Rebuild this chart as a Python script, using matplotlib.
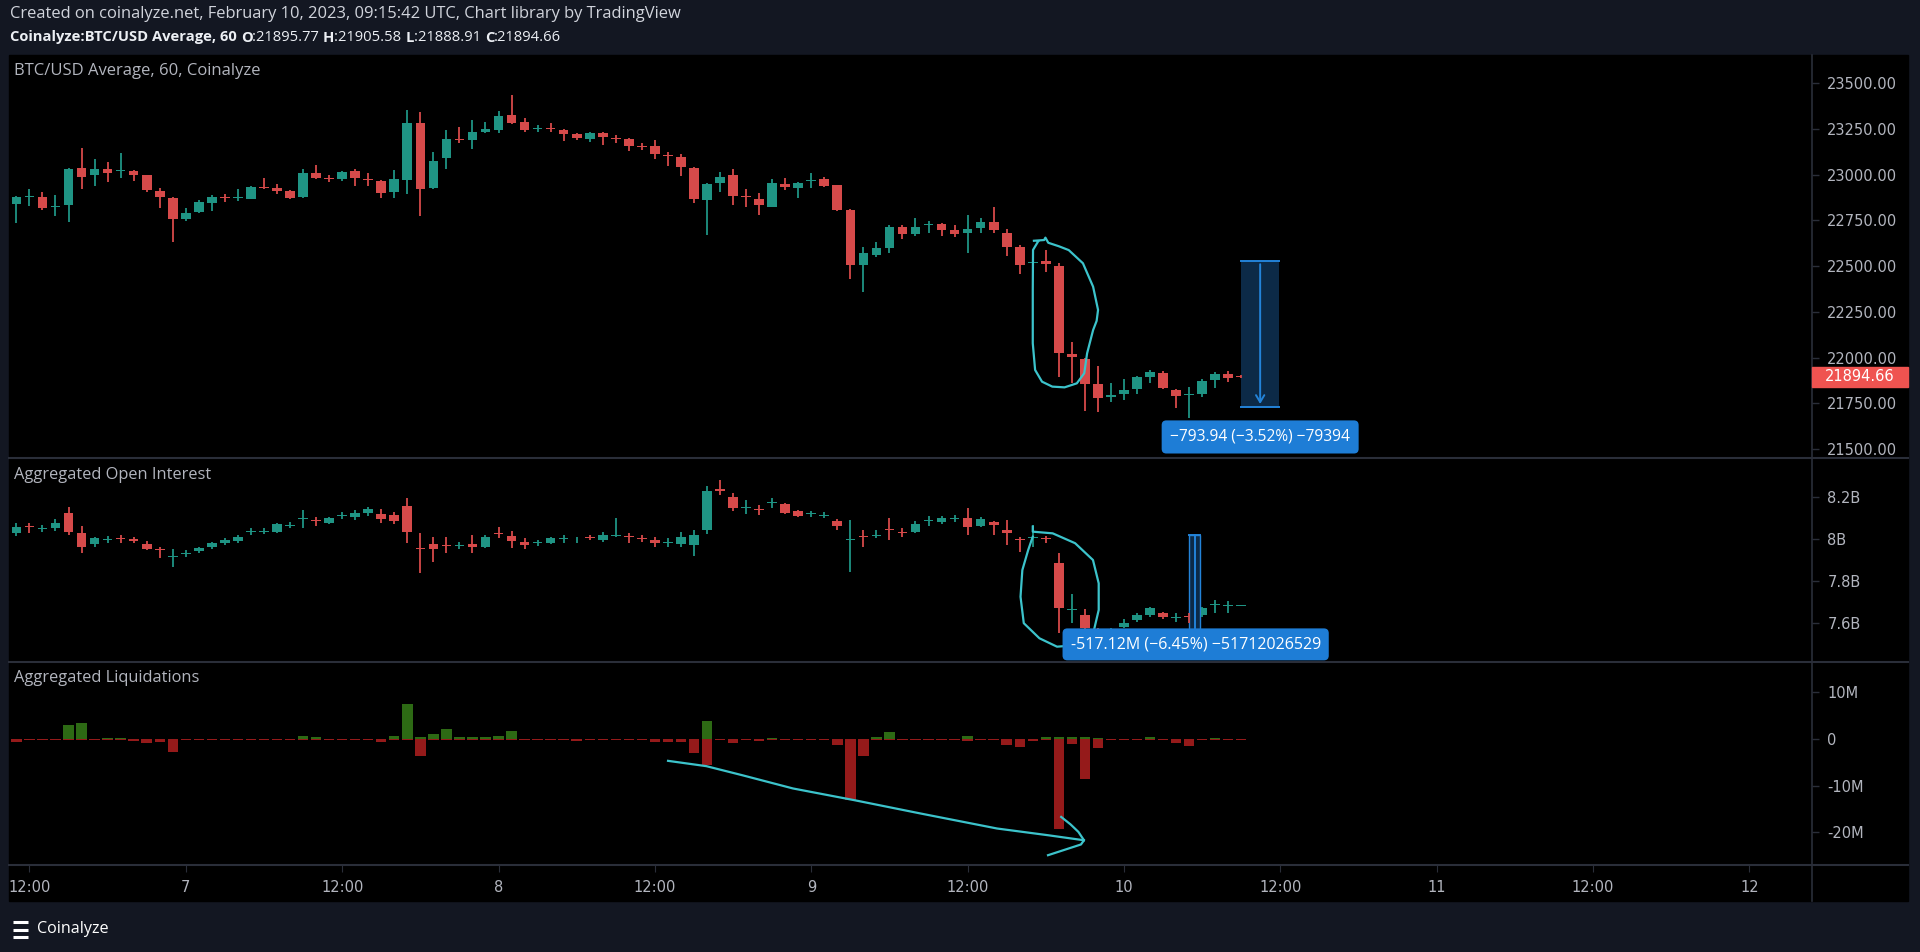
import numpy as np
import matplotlib.pyplot as plt
from matplotlib.patches import Rectangle

# hourly bars, hour 0 = Feb 6 12:00 UTC, last bar = Feb 10 09:00
hours = np.arange(-1, 94)

price_open = [22839, 22875, 22879, 22824, 22833, 23034, 22997, 23030, 23019, 23017, 22995, 22910,
              22870, 22755, 22795, 22846, 22877, 22870, 22868, 22933, 22926, 22908, 22875, 23006,
              22982, 22977, 23017, 22977, 22966, 22906, 22970, 23283, 22926, 23088, 23196, 23188,
              23234, 23243, 23325, 23285, 23247, 23256, 23243, 23219, 23196, 23225, 23199, 23192,
              23155, 23156, 23108, 23097, 23035, 22861, 22952, 22995, 22882, 22868, 22824, 22950,
              22924, 22966, 22977, 22941, 22806, 22505, 22560, 22596, 22715, 22675, 22725, 22730,
              22697, 22682, 22706, 22742, 22682, 22602, 22515, 22529, 22502, 22019, 21990, 21855,
              21786, 21799, 21826, 21895, 21917, 21822, 21793, 21801, 21877, 21910, 21895.77]
price_high = [22883, 22923, 22906, 22888, 23035, 23143, 23085, 23070, 23116, 23025, 22998, 22924,
              22879, 22815, 22861, 22886, 22893, 22919, 22939, 22979, 22946, 22915, 23030, 23052,
              22997, 23021, 23030, 23006, 22970, 23025, 23352, 23340, 23125, 23243, 23261, 23298,
              23289, 23349, 23434, 23307, 23270, 23280, 23249, 23225, 23232, 23230, 23216, 23198,
              23170, 23188, 23125, 23112, 23039, 22954, 23015, 23030, 22919, 22901, 22973, 22979,
              22961, 23006, 22988, 22944, 22810, 22606, 22633, 22724, 22724, 22760, 22746, 22733,
              22724, 22779, 22760, 22821, 22700, 22615, 22587, 22587, 22515, 22087, 21996, 21955,
              21859, 21881, 21899, 21932, 21926, 21826, 21841, 21881, 21923, 21926, 21905.58]
price_low = [22737, 22828, 22806, 22773, 22742, 22921, 22939, 22959, 22979, 22966, 22906, 22815,
             22633, 22748, 22791, 22802, 22852, 22857, 22864, 22919, 22893, 22864, 22870, 22974,
             22961, 22963, 22935, 22937, 22870, 22873, 22893, 22773, 22919, 23030, 23170, 23137,
             23229, 23229, 23276, 23234, 23232, 23234, 23185, 23188, 23179, 23161, 23174, 23130,
             23134, 23083, 23046, 22992, 22846, 22669, 22906, 22833, 22821, 22779, 22821, 22915,
             22870, 22928, 22930, 22802, 22427, 22356, 22551, 22573, 22646, 22666, 22678, 22666,
             22660, 22569, 22682, 22678, 22556, 22454, 22496, 22469, 21892, 21859, 21709, 21704,
             21755, 21768, 21801, 21859, 21826, 21722, 21668, 21786, 21835, 21864, 21888.91]
price_close = [22879, 22882, 22815, 22828, 23030, 22988, 23030, 23010, 23026, 22999, 22915, 22879,
               22755, 22788, 22852, 22875, 22872, 22875, 22932, 22924, 22912, 22870, 23006, 22979,
               22976, 23014, 22979, 22970, 22901, 22975, 23283, 22919, 23076, 23194, 23188, 23230,
               23247, 23320, 23283, 23243, 23254, 23249, 23219, 23198, 23229, 23203, 23194, 23156,
               23150, 23112, 23101, 23039, 22864, 22950, 22984, 22882, 22875, 22833, 22955, 22930,
               22955, 22972, 22939, 22806, 22505, 22569, 22598, 22715, 22675, 22715, 22731, 22697,
               22673, 22702, 22742, 22697, 22606, 22505, 22522, 22511, 22023, 22005, 21855, 21780,
               21795, 21822, 21892, 21923, 21832, 21790, 21801, 21873, 21910, 21886, 21894.66]

# aggregated open interest, billions USD
oi_open = [8.027, 8.062, 8.048, 8.054, 8.122, 8.027, 7.976, 7.995, 8.003, 7.998, 7.976, 7.952,
           7.913, 7.930, 7.943, 7.960, 7.979, 7.992, 8.033, 8.035, 8.035, 8.064, 8.095, 8.090,
           8.078, 8.111, 8.106, 8.122, 8.119, 8.114, 8.157, 7.957, 7.975, 7.973, 7.968, 7.976,
           7.960, 8.030, 8.016, 7.987, 7.983, 7.979, 8.000, 7.998, 8.008, 7.995, 8.016, 8.016,
           8.006, 7.995, 7.981, 7.975, 7.971, 8.043, 8.237, 8.202, 8.146, 8.143, 8.170, 8.165,
           8.133, 8.119, 8.111, 8.087, 7.995, 8.014, 8.016, 8.049, 8.035, 8.035, 8.084, 8.083,
           8.096, 8.102, 8.062, 8.083, 8.043, 8.000, 8.006, 8.006, 7.884, 7.662, 7.638, 7.554,
           7.556, 7.582, 7.614, 7.638, 7.649, 7.625, 7.632, 7.638, 7.684, 7.683, 7.682]
oi_high = [8.075, 8.078, 8.067, 8.094, 8.154, 8.064, 8.008, 8.014, 8.017, 8.008, 7.992, 7.964,
           7.951, 7.948, 7.964, 7.987, 8.003, 8.019, 8.051, 8.051, 8.078, 8.083, 8.138, 8.106,
           8.106, 8.130, 8.138, 8.154, 8.141, 8.130, 8.194, 8.030, 8.008, 8.008, 7.987, 8.019,
           8.019, 8.056, 8.038, 8.003, 7.995, 8.008, 8.019, 8.011, 8.019, 8.032, 8.098, 8.030,
           8.019, 8.008, 8.003, 8.035, 8.043, 8.252, 8.281, 8.221, 8.186, 8.162, 8.194, 8.170,
           8.138, 8.135, 8.127, 8.094, 8.090, 8.043, 8.043, 8.098, 8.051, 8.087, 8.110, 8.111,
           8.114, 8.146, 8.106, 8.087, 8.090, 8.008, 8.067, 8.014, 7.935, 7.738, 7.665, 7.575,
           7.575, 7.617, 7.646, 7.678, 7.654, 7.646, 7.646, 7.678, 7.710, 7.706, 7.686]
oi_low = [8.016, 8.030, 8.035, 8.038, 8.019, 7.935, 7.960, 7.979, 7.979, 7.983, 7.948, 7.908,
          7.865, 7.913, 7.932, 7.951, 7.971, 7.983, 8.019, 8.024, 8.030, 8.051, 8.051, 8.062,
          8.071, 8.094, 8.090, 8.111, 8.078, 8.071, 7.983, 7.836, 7.892, 7.932, 7.951, 7.935,
          7.957, 8.003, 7.956, 7.952, 7.967, 7.975, 7.983, 7.983, 7.995, 7.987, 8.008, 7.983,
          7.987, 7.960, 7.960, 7.960, 7.919, 8.024, 8.210, 8.135, 8.119, 8.114, 8.146, 8.119,
          8.106, 8.103, 8.098, 8.043, 7.844, 7.964, 8.003, 7.995, 8.008, 8.027, 8.062, 8.071,
          8.083, 8.019, 8.056, 8.019, 7.971, 7.940, 7.964, 7.979, 7.554, 7.598, 7.559, 7.535,
          7.545, 7.575, 7.606, 7.630, 7.617, 7.606, 7.598, 7.630, 7.646, 7.646, 7.680]
oi_close = [8.059, 8.056, 8.051, 8.078, 8.035, 7.964, 8.003, 8.000, 7.998, 7.992, 7.951, 7.946,
            7.917, 7.935, 7.956, 7.979, 7.995, 8.011, 8.038, 8.040, 8.071, 8.069, 8.100, 8.084,
            8.098, 8.116, 8.122, 8.143, 8.095, 8.087, 8.035, 7.951, 7.951, 7.968, 7.973, 7.960,
            8.011, 8.024, 7.990, 7.971, 7.987, 8.003, 8.005, 8.002, 8.003, 8.019, 8.021, 8.011,
            8.000, 7.983, 7.986, 8.011, 8.019, 8.230, 8.230, 8.146, 8.151, 8.138, 8.176, 8.125,
            8.111, 8.125, 8.116, 8.062, 8.000, 8.008, 8.021, 8.043, 8.030, 8.071, 8.090, 8.102,
            8.100, 8.056, 8.094, 8.067, 8.027, 7.995, 8.011, 8.000, 7.670, 7.668, 7.575, 7.548,
            7.562, 7.602, 7.638, 7.670, 7.627, 7.629, 7.627, 7.670, 7.688, 7.687, 7.684]

# aggregated liquidations, millions USD (longs negative, shorts positive)
liq_longs = [-0.6, -0.2, -0.2, -0.2, -0.2, -0.3, -0.2, -0.2, -0.2, -0.4, -0.9, -0.6,
             -2.7, -0.2, -0.2, -0.2, -0.2, -0.2, -0.2, -0.2, -0.2, -0.2, -0.2, -0.2,
             -0.2, -0.2, -0.2, -0.2, -0.6, -0.2, -0.2, -3.6, -0.2, -0.2, -0.2, -0.2,
             -0.2, -0.2, -0.2, -0.2, -0.2, -0.2, -0.2, -0.4, -0.2, -0.2, -0.2, -0.2,
             -0.2, -0.6, -0.6, -0.6, -2.9, -5.6, -0.2, -0.9, -0.2, -0.4, -0.2, -0.2,
             -0.2, -0.2, -0.2, -1.3, -13.1, -3.7, -0.2, -0.2, -0.2, -0.2, -0.2, -0.2,
             -0.2, -0.5, -0.2, -0.2, -1.3, -1.8, -0.4, -0.2, -19.2, -1.1, -8.6, -2.0,
             -0.2, -0.2, -0.2, -0.2, -0.2, -0.9, -1.5, -0.2, -0.2, -0.2, -0.2]
liq_shorts = [0.1, 0.1, 0.1, 0.1, 3.0, 3.4, 0.1, 0.2, 0.2, 0.1, 0.1, 0.1,
              0.1, 0.1, 0.1, 0.1, 0.1, 0.1, 0.1, 0.1, 0.1, 0.1, 0.6, 0.5,
              0.1, 0.1, 0.1, 0.1, 0.1, 0.6, 7.6, 0.5, 1.1, 2.1, 0.4, 0.4,
              0.4, 0.7, 1.7, 0.1, 0.1, 0.1, 0.1, 0.1, 0.1, 0.1, 0.1, 0.1,
              0.1, 0.1, 0.1, 0.1, 0.1, 3.9, 0.1, 0.1, 0.1, 0.1, 0.2, 0.1,
              0.1, 0.1, 0.1, 0.1, 0.1, 0.1, 0.5, 1.6, 0.1, 0.1, 0.1, 0.1,
              0.1, 0.6, 0.1, 0.1, 0.1, 0.1, 0.1, 0.4, 0.5, 0.4, 0.4, 0.2,
              0.1, 0.1, 0.1, 0.4, 0.1, 0.1, 0.1, 0.1, 0.3, 0.1, 0.1]

price_ticks = [21500, 21750, 22000, 22250, 22500, 22750, 23000, 23250, 23500]
oi_ticks = [7.6, 7.8, 8.0, 8.2]
oi_tick_labels = ["7.6B", "7.8B", "8B", "8.2B"]
liq_ticks = [-20, -10, 0, 10]
liq_tick_labels = ["-20M", "-10M", "0", "10M"]
time_ticks = [0, 12, 24, 36, 48, 60, 72, 84, 96, 108, 120, 132]
time_tick_labels = ["12:00", "7", "12:00", "8", "12:00", "9", "12:00", "10", "12:00", "11", "12:00", "12"]

# measure tools drawn on the chart
measure_price_top, measure_price_delta = 22525.0, 793.94
measure_oi_top, measure_oi_delta = 8.019, 0.51712
price_measure_label = "\u2212793.94 (\u22123.52%) \u221279394"
oi_measure_label = "-517.12M (\u22126.45%) \u221251712026529"

# hand-drawn cyan marks (hour, value)
scribble_price_h = [77.09, 77.87, 77.97, 78.19, 79.0, 79.76, 80.85, 81.63, 82.01, 81.9, 81.63,
                    81.17, 80.95, 80.38, 79.44, 78.50, 77.71, 77.18, 77.0, 77.0, 77.02, 77.4]
scribble_price_v = [22638, 22642, 22655, 22627, 22608, 22587, 22515, 22387, 22260, 22200, 22150,
                    22023, 21914, 21859, 21837, 21841, 21868, 21932, 22078, 22369, 22588, 22633]
scribble_oi_h = [77.0, 77.0, 78.53, 80.25, 81.62, 82.06, 82.06, 81.70, 80.59, 78.86, 77.51,
                 76.31, 76.06, 76.20, 76.65, 77.0]
scribble_oi_v = [8.059, 8.035, 8.027, 7.980, 7.900, 7.789, 7.662, 7.567, 7.495, 7.487, 7.527,
                 7.599, 7.725, 7.852, 7.948, 8.011]
scribble_liq_h = [49.01, 51.95, 54.69, 58.60, 63.31, 68.40, 74.26, 78.17, 80.93]
scribble_liq_v = [-4.68, -5.82, -7.75, -10.60, -13.11, -15.97, -19.18, -20.62, -21.70]
scribble_arrow_h = [79.18, 79.9, 80.5, 80.93, 80.7, 78.17]
scribble_arrow_v = [-16.7, -18.3, -19.9, -21.7, -22.6, -24.9]

# ---- styling ----
W, H = 1920, 952
NAVY = '#131722'
SEP = '#2a2e39'
TXT = '#b2b5be'
UP, DOWN = '#1f9484', '#d64a4a'
LIQ_UP, LIQ_DOWN = '#2d6a14', '#951a1a'
CYAN = '#3cc3cb'
BLUE = '#2383d8'
X0, X1 = 10, 1812
XLIM = (-1.49, 136.8)

plt.rcParams['font.family'] = ['Open Sans', 'DejaVu Sans']

fig = plt.figure(figsize=(W / 100, H / 100), dpi=100, facecolor=NAVY)

bg = fig.add_axes([0, 0, 1, 1], zorder=0)
bg.set_xlim(0, W)
bg.set_ylim(H, 0)
bg.axis('off')
bg.add_patch(Rectangle((9, 55), 1899, 846, color='black'))
for y in (458, 662, 865):
    bg.plot([9, 1908], [y, y], color=SEP, lw=1.5)
bg.plot([X1, X1], [55, 901], color=SEP, lw=1.2)


def pane(y0, y1):
    ax = fig.add_axes([X0 / W, 1 - y1 / H, (X1 - X0) / W, (y1 - y0) / H], zorder=2)
    ax.set_facecolor('none')
    for s in ax.spines.values():
        s.set_visible(False)
    ax.set_xlim(*XLIM)
    ax.yaxis.tick_right()
    ax.tick_params(axis='y', colors=SEP, labelcolor=TXT, length=5, width=1, pad=6,
                   labelsize=10.5, labelfontfamily='DejaVu Sans')
    ax.tick_params(axis='x', bottom=False, labelbottom=False)
    return ax


def candles(ax, o, h, l, c, min_body):
    o, h, l, c = map(np.asarray, (o, h, l, c))
    colors = np.where(c >= o, UP, DOWN)
    ax.vlines(hours, l, h, colors=colors, linewidth=1.3)
    ax.bar(hours, np.maximum(np.abs(c - o), min_body), 0.74, bottom=np.minimum(o, c),
           color=colors, linewidth=0)


# price pane
ax1 = pane(55, 458)
ax1.set_ylim(21451, 23653)
candles(ax1, price_open, price_high, price_low, price_close, 6)
ax1.set_yticks(price_ticks, [f"{t:.2f}" for t in price_ticks])

m_bot = measure_price_top - measure_price_delta
ax1.add_patch(Rectangle((93.0, m_bot), 2.9, measure_price_delta, facecolor='#0c2a47', edgecolor='none'))
ax1.plot([93.0, 95.9], [measure_price_top] * 2, color=BLUE, lw=1.4)
ax1.plot([93.0, 95.9], [m_bot] * 2, color=BLUE, lw=1.4)
ax1.annotate('', xy=(94.45, m_bot), xytext=(94.45, measure_price_top),
             arrowprops=dict(arrowstyle='->,head_length=0.5,head_width=0.3', color=BLUE, lw=1.4))
ax1.text(94.45, 21566, price_measure_label, ha='center', va='center', color='white', fontsize=11.2,
         bbox=dict(boxstyle='round,pad=0.55,rounding_size=0.3', fc='#1e7dd6', ec='none'), zorder=5)
ax1.plot(scribble_price_h, scribble_price_v, color=CYAN, lw=1.6, solid_joinstyle='round')

last = price_close[-1]
ax1.add_patch(Rectangle((1.0, last - 55), 96 / (X1 - X0), 110, transform=ax1.get_yaxis_transform(),
                        color='#ef5350', clip_on=False, zorder=6))
ax1.text(1.0 + 13 / (X1 - X0), last, f"{last:.2f}", transform=ax1.get_yaxis_transform(),
         color='white', fontsize=10.5, family='DejaVu Sans', va='center', ha='left', zorder=7)

# open interest pane
ax2 = pane(458, 662)
ax2.set_ylim(7.414, 8.386)
candles(ax2, oi_open, oi_high, oi_low, oi_close, 0.004)
ax2.set_yticks(oi_ticks, oi_tick_labels)
ax2.plot(scribble_oi_h, scribble_oi_v, color=CYAN, lw=1.6, solid_joinstyle='round')
oi_bot = measure_oi_top - measure_oi_delta
ax2.add_patch(Rectangle((89.0, oi_bot), 0.85, measure_oi_delta, facecolor='#0c2a47', edgecolor=BLUE, lw=1))
ax2.plot([89.0, 89.85], [measure_oi_top] * 2, color=BLUE, lw=1.4)
ax2.plot([89.42, 89.42], [oi_bot, measure_oi_top], color=BLUE, lw=1.4)
ax2.text(89.5, 7.498, oi_measure_label, ha='center', va='center', color='white', fontsize=11.5,
         bbox=dict(boxstyle='round,pad=0.5,rounding_size=0.3', fc='#1e7dd6', ec='none'), zorder=5)

# liquidations pane
ax3 = pane(662, 865)
ax3.set_ylim(-27.0, 16.5)
ax3.bar(hours, liq_shorts, 0.8, color=LIQ_UP, linewidth=0)
ax3.bar(hours, liq_longs, 0.8, color=LIQ_DOWN, linewidth=0)
ax3.set_yticks(liq_ticks, liq_tick_labels)
ax3.plot(scribble_liq_h, scribble_liq_v, color=CYAN, lw=1.6)
ax3.plot(scribble_arrow_h, scribble_arrow_v, color=CYAN, lw=1.6)
ax3.tick_params(axis='x', bottom=True, labelbottom=True, colors=SEP, labelcolor=TXT,
                length=5, pad=6, labelsize=10.5, labelfontfamily='DejaVu Sans')
ax3.set_xticks(time_ticks, time_tick_labels)

# texts
fig.text(10 / W, 1 - 14.5 / H, "Created on coinalyze.net, February 10, 2023, 09:15:42 UTC, Chart library by TradingView",
         color='#d1d4dc', fontsize=11.9, va='center')
renderer = fig.canvas.get_renderer()
x = 10
for s, wgt in [("Coinalyze:BTC/USD Average, 60 ", 'bold'), ("O", 'bold'), (":21895.77 ", 'normal'),
               ("H", 'bold'), (":21905.58 ", 'normal'), ("L", 'bold'), (":21888.91 ", 'normal'),
               ("C", 'bold'), (":21894.66", 'normal')]:
    t = fig.text(x / W, 1 - 37.5 / H, s, color='#eceff4', fontsize=10.6, fontweight=wgt, va='center')
    x += t.get_window_extent(renderer).width

fig.text(14 / W, 1 - 71 / H, "BTC/USD Average, 60, Coinalyze", color=TXT, fontsize=12, va='center')
fig.text(14 / W, 1 - 475 / H, "Aggregated Open Interest", color=TXT, fontsize=11.8, va='center')
fig.text(14 / W, 1 - 678 / H, "Aggregated Liquidations", color=TXT, fontsize=11.8, va='center')

# footer logo
for yy in (922, 929.5, 937):
    bg.plot([13, 28], [yy, yy], color='white', lw=2.2, solid_capstyle='butt')
fig.text(37 / W, 1 - 929 / H, "Coinalyze", color='white', fontsize=11.6, va='center')

fig.savefig('out.png', dpi=100, facecolor=fig.get_facecolor())
